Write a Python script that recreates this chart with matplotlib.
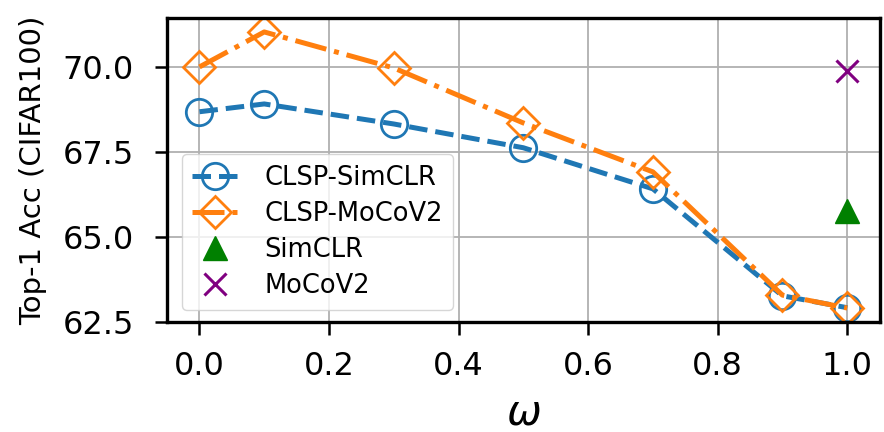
import matplotlib
matplotlib.use("Agg")
import matplotlib.pyplot as plt

# omega values and top-1 accuracy (CIFAR100)
omega = [0.0, 0.1, 0.3, 0.5, 0.7, 0.9, 1.0]
clsp_simclr = [68.68, 68.91, 68.32, 67.62, 66.41, 63.26, 62.91]
clsp_mocov2 = [70.00, 71.03, 69.97, 68.35, 66.91, 63.28, 62.90]
simclr_x = [1.0]
simclr_acc = [65.75]
mocov2_x = [1.0]
mocov2_acc = [69.88]

fig = plt.figure(figsize=(8.84, 4.32), dpi=100)
ax = fig.add_axes([0.189, 0.255, 0.806, 0.703])

ax.plot(omega, clsp_simclr, linestyle='--', color='#1f77b4', linewidth=3.6,
        marker='o', markersize=19, markerfacecolor='none', markeredgewidth=2,
        label='CLSP-SimCLR')
ax.plot(omega, clsp_mocov2, linestyle='-.', color='#ff7f0e', linewidth=3.6,
        marker='D', markersize=16, markerfacecolor='none', markeredgewidth=2,
        label='CLSP-MoCoV2')
ax.plot(simclr_x, simclr_acc, linestyle='none', marker='^', color='green',
        markersize=17, label='SimCLR')
ax.plot(mocov2_x, mocov2_acc, linestyle='none', marker='x', color='purple',
        markersize=16, markeredgewidth=2.2, label='MoCoV2')

ax.set_xticks([0.0, 0.2, 0.4, 0.6, 0.8, 1.0])
ax.set_yticks([62.5, 65.0, 67.5, 70.0])
ax.grid(True, color='#b0b0b0', linewidth=1.3)
ax.set_axisbelow(True)
ax.tick_params(labelsize=23, width=1.8, length=9)
ax.tick_params(axis='x', pad=12)
ax.tick_params(axis='y', pad=15)
for sp in ax.spines.values():
    sp.set_linewidth(2.4)

ax.set_xlabel(r'$\omega$', fontsize=30, labelpad=7)
ax.set_ylabel('Top-1 Acc (CIFAR100)', fontsize=21, labelpad=11)

ax.legend(loc='lower left', bbox_to_anchor=(0.021, 0.04), borderaxespad=0,
          fontsize=18.5,
          handlelength=1.8, handletextpad=1.0, borderpad=0.4, labelspacing=0.4)

fig.savefig('out.png', dpi=100)
